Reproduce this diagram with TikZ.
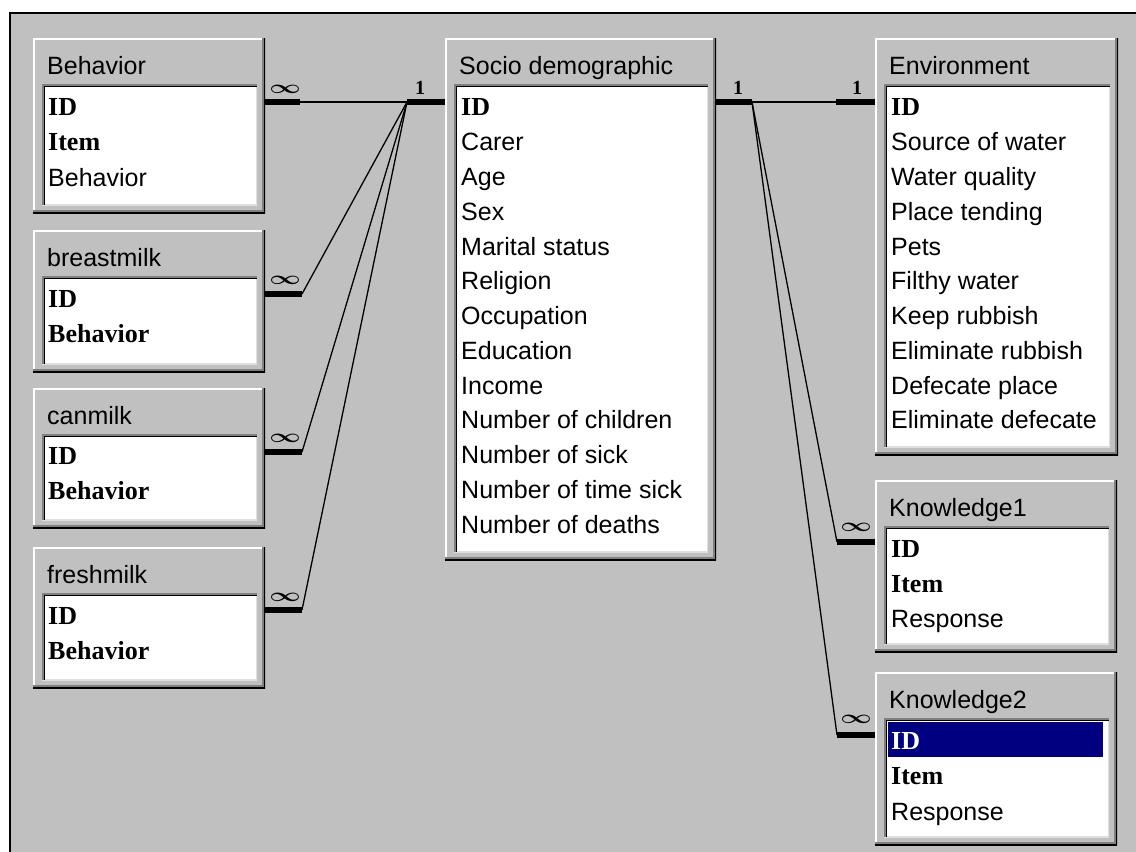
\documentclass[tikz,border=0pt]{standalone}
\usepackage{fontspec}
\setmainfont{Liberation Sans}
\newfontfamily\keyfont{Liberation Serif}

\definecolor{wingray}{HTML}{C0C0C0}
\definecolor{windark}{HTML}{808080}
\definecolor{winlight}{HTML}{DFDFDF}
\definecolor{winsel}{HTML}{000080}

\tikzset{
  tbl/.style={anchor=north west, fill=wingray, inner sep=0pt, path picture={
    \draw[white,line width=3pt] (path picture bounding box.south west) |- (path picture bounding box.north east);
    \draw[black,line width=3pt] (path picture bounding box.north east) |- (path picture bounding box.south west);
    \draw[windark,line width=1.5pt] ([xshift=-2.25pt]path picture bounding box.north east) |- ([yshift=2.25pt]path picture bounding box.south west);}},
  lst/.style={anchor=north west, fill=white, inner sep=0pt, path picture={
    \draw[winlight,line width=3pt] (path picture bounding box.north east) |- (path picture bounding box.south west);
    \draw[windark,line width=3pt] (path picture bounding box.south west) |- (path picture bounding box.north east);
    \draw[black,line width=1.5pt] ([xshift=2.25pt]path picture bounding box.south west) |- ([yshift=-2.25pt]path picture bounding box.north east);}},
  fld/.style={anchor=west, inner sep=0pt, text height=18pt, text depth=0pt, font=\fontsize{25}{30}\selectfont},
  key/.style={anchor=west, inner sep=0pt, text height=17pt, text depth=0pt, font=\fontsize{26}{30}\keyfont\bfseries},
  stub/.style={line width=5.5pt},
  rel/.style={line width=1.3pt},
  one/.style={inner sep=0pt, font=\fontsize{20}{20}\keyfont\bfseries},
  many/.style={inner sep=0pt}
}
\newcommand{\manysign}{\scalebox{1.1}[0.75]{\fontsize{30}{30}\selectfont\boldmath$\infty$}}

\begin{document}
\begin{tikzpicture}[x=1pt,y=-1pt]
\useasboundingbox (0,0) rectangle (1136,852);
\fill[wingray] (10,13) rectangle (1136,852);
\draw[line width=2.5pt] (10,852) |- (1136,13);

% tables
\foreach \n/\x/\y/\w/\h/\t in {bhv/33/38/232/175/Behavior, bm/33/230/232/142/breastmilk,
  cm/33/388/232/140/canmilk, fm/33/547/232/141/freshmilk, sd/445/38/271/522/Socio demographic,
  env/875/38/243/417/Environment, kn1/875/480/242/172/Knowledge1, kn2/875/672/242/173/Knowledge2}
{
  \node[tbl, minimum width=\w, minimum height=\h] (\n) at (\x,\y) {};
  \node[lst, minimum width=\w-17, minimum height=\h-54] (\n-list) at (\x+9,\y+46) {};
  \node[fld] (\n-title) at (\x+14,\y+27) {\t};
}
\node[anchor=north west, fill=winsel, inner sep=0pt, minimum width=215, minimum height=35] (kn2-sel) at (888,722) {};

% fields
\node[key] (bhv-id) at (48,107) {ID};
\node[key] (bhv-item) at (48,142) {Item};
\node[fld] (bhv-beh) at (48,177) {Behavior};
\foreach \n/\y in {bm/299, cm/456, fm/616} {
  \node[key] (\n-id) at (48,\y) {ID};
  \node[key] (\n-beh) at (48,\y+35) {Behavior};
}
\node[key] (sd-f0) at (461,107) {ID};
\foreach \f [count=\i] in {Carer, Age, Sex, Marital status, Religion, Occupation, Education, Income,
  Number of children, Number of sick, Number of time sick, Number of deaths}
  \node[fld] (sd-f\i) at (461,107+34.75*\i) {\f};
\node[key] (env-f0) at (891,107) {ID};
\foreach \f [count=\i] in {Source of water, Water quality, Place tending, Pets, Filthy water,
  Keep rubbish, Eliminate rubbish, Defecate place, Eliminate defecate}
  \node[fld] (env-f\i) at (891,107+34.75*\i) {\f};
\node[key] (kn1-id) at (891,549) {ID};
\node[key] (kn1-item) at (891,584) {Item};
\node[fld] (kn1-resp) at (891,618) {Response};
\node[key, text=white] (kn2-id) at (891,741) {ID};
\node[key] (kn2-item) at (891,776) {Item};
\node[fld] (kn2-resp) at (891,811) {Response};

% relationships
\coordinate (sd-l) at (407,102);
\coordinate (sd-r) at (752,102);
\coordinate (bhv-j) at (300,102);
\coordinate (bm-j) at (302,294);
\coordinate (cm-j) at (302,452);
\coordinate (fm-j) at (302,610);
\coordinate (env-j) at (836,102);
\coordinate (kn1-j) at (837,542);
\coordinate (kn2-j) at (837,735);
\draw[stub] (sd.west |- sd-l) -- (sd-l);
\draw[stub] (sd.east |- sd-r) -- (sd-r);
\foreach \n in {bhv,bm,cm,fm} {
  \draw[stub] (\n.east |- \n-j) -- (\n-j);
  \draw[rel] (\n-j) -- (sd-l);
}
\foreach \n in {env,kn1,kn2} {
  \draw[stub] (\n.west |- \n-j) -- (\n-j);
  \draw[rel] (sd-r) -- (\n-j);
}
\node[one] (sd-one-l) at (420,88) {1};
\node[one] (sd-one-r) at (738,88) {1};
\node[one] (env-one) at (857,88) {1};
\node[many] (bhv-many) at (285,89) {\manysign};
\node[many] (bm-many) at (285,280) {\manysign};
\node[many] (cm-many) at (285,438) {\manysign};
\node[many] (fm-many) at (285,597) {\manysign};
\node[many] (kn1-many) at (856,527) {\manysign};
\node[many] (kn2-many) at (856,719) {\manysign};
\end{tikzpicture}
\end{document}
